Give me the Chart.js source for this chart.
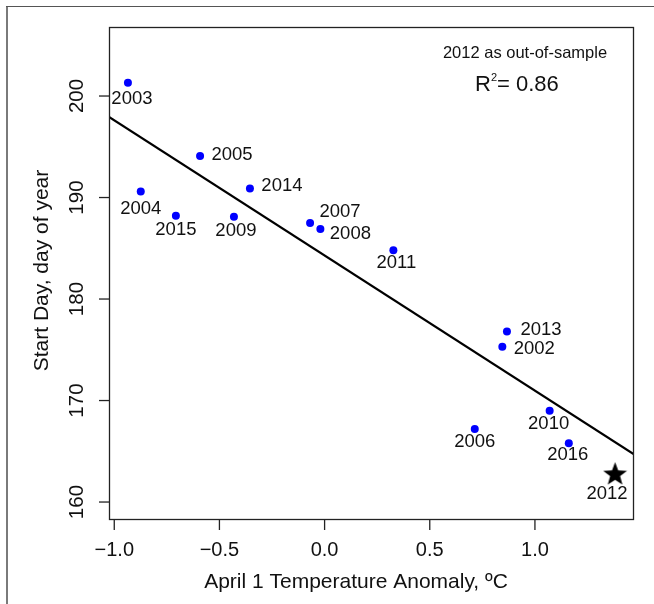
<!DOCTYPE html>
<html>
<head>
<meta charset="utf-8">
<script src="https://cdn.jsdelivr.net/npm/chart.js@4"></script>
<style>
html,body{margin:0;padding:0;background:#fff;}
#wrap{position:relative;width:654px;height:604px;}
</style>
</head>
<body>
<div id="wrap"><canvas id="c" width="654" height="604"></canvas></div>
<script>
// ---- data ----
const years      = ['2003','2005','2004','2015','2009','2014','2007','2008','2011','2013','2002','2006','2010','2016'];
const anomaly    = [-0.935,-0.592,-0.874,-0.707,-0.431,-0.355,-0.069,-0.020, 0.327, 0.867, 0.845, 0.714, 1.070, 1.161];
const startDay   = [201.3, 194.1, 190.6, 188.2, 188.1, 190.9, 187.5, 186.9, 184.8, 176.8, 175.3, 167.2, 169.0, 165.8];
const outYear    = ['2012'];
const outAnomaly = [1.381];
const outDay     = [162.8];
const fitX       = [-1.025, 1.471];
const fitY       = [197.95, 164.7];
const xTicks     = [-1.0, -0.5, 0.0, 0.5, 1.0];
const xTickLabels= ['\u22121.0','\u22120.5','0.0','0.5','1.0'];
const yTicks     = [160, 170, 180, 190, 200];
const yTickLabels= ['160','170','180','190','200'];
const noteText   = '2012 as out-of-sample';
const r2Text     = '= 0.86';
const xTitle     = 'April 1 Temperature Anomaly, \u00baC';
const yTitle     = 'Start Day, day of year';

// label offsets (style)
const labelOffsets = {
  '2003':[4,16],'2005':[32,-1],'2004':[0,17],'2015':[0,14.5],'2009':[2,14],
  '2014':[32,-2],'2007':[30,-11],'2008':[30,5],'2011':[3,13],'2013':[34,-2],
  '2002':[32,2],'2006':[0,13],'2010':[-1,13],'2016':[-1,12],'2012':[-8,20]
};
const FONT = '"Liberation Sans", Arial, Helvetica, sans-serif';

function starCanvas(size){
  const c=document.createElement('canvas'); c.width=size; c.height=size;
  const g=c.getContext('2d'); const cx=size/2, cy=size/2+1, R=size/2, r=R*0.42;
  g.beginPath();
  for(let i=0;i<10;i++){
    const a=-Math.PI/2+i*Math.PI/5; const rr=i%2?r:R;
    g.lineTo(cx+rr*Math.cos(a), cy+rr*Math.sin(a));
  }
  g.closePath(); g.fillStyle='#000'; g.fill();
  return c;
}

const decor = {
  id:'decor',
  beforeDraw(chart){
    const ctx=chart.ctx;
    ctx.save();
    ctx.fillStyle='#fff'; ctx.fillRect(0,0,chart.width,chart.height);
    ctx.strokeStyle='#7a7a7a'; ctx.lineWidth=2;
    ctx.beginPath(); ctx.moveTo(7,604); ctx.lineTo(7,6); ctx.stroke();
    ctx.strokeStyle='#555'; ctx.lineWidth=1.2;
    ctx.beginPath(); ctx.moveTo(6,6.5); ctx.lineTo(654,6.5); ctx.stroke();
    ctx.restore();
  },
  afterDraw(chart){
    const ctx=chart.ctx, a=chart.chartArea, xs=chart.scales.x, ys=chart.scales.y;
    ctx.save();
    // box
    ctx.strokeStyle='#222'; ctx.lineWidth=1.3;
    ctx.strokeRect(a.left+0.5, a.top+0.5, a.right-a.left-1, a.bottom-a.top-1);
    // x ticks
    ctx.fillStyle='#111'; ctx.font='20px '+FONT; ctx.textAlign='center'; ctx.textBaseline='middle';
    xTicks.forEach((v,i)=>{
      const px=xs.getPixelForValue(v);
      ctx.beginPath(); ctx.moveTo(px,a.bottom); ctx.lineTo(px,a.bottom+10); ctx.stroke();
      ctx.fillText(xTickLabels[i], px, a.bottom+30);
    });
    // y ticks (rotated labels)
    ctx.font='20.5px '+FONT;
    yTicks.forEach((v,i)=>{
      const py=ys.getPixelForValue(v);
      ctx.beginPath(); ctx.moveTo(a.left,py); ctx.lineTo(a.left-10,py); ctx.stroke();
      ctx.save(); ctx.translate(a.left-32, py); ctx.rotate(-Math.PI/2);
      ctx.fillText(yTickLabels[i],0,0); ctx.restore();
    });
    // axis titles
    ctx.font='21px '+FONT;
    ctx.fillText(xTitle, 356, a.bottom+62);
    ctx.save(); ctx.translate(42,(a.top+a.bottom)/2 - 3); ctx.rotate(-Math.PI/2);
    ctx.fillText(yTitle,0,0); ctx.restore();
    // point labels
    ctx.font='18.5px '+FONT;
    const drawLabels=(labs,xv,yv)=>{
      labs.forEach((t,i)=>{
        const o=labelOffsets[t]||[0,14];
        ctx.fillText(t, xs.getPixelForValue(xv[i])+o[0], ys.getPixelForValue(yv[i])+o[1]);
      });
    };
    drawLabels(years,anomaly,startDay);
    drawLabels(outYear,outAnomaly,outDay);
    // annotation
    ctx.font='16.5px '+FONT;
    ctx.fillText(noteText, 525, 53);
    ctx.font='22px '+FONT;
    ctx.textAlign='left';
    const rx=475, ry=85;
    ctx.fillText('R', rx, ry);
    const wR=ctx.measureText('R').width;
    ctx.font='11px '+FONT; ctx.fillText('2', rx+wR, ry-7);
    const w2=ctx.measureText('2').width;
    ctx.font='22px '+FONT; ctx.fillText(r2Text, rx+wR+w2, ry);
    ctx.restore();
  }
};

new Chart(document.getElementById('c'), {
  data:{
    datasets:[
      {type:'line', data:fitX.map((x,i)=>({x:x,y:fitY[i]})), borderColor:'#000', borderWidth:2.2,
       pointRadius:0, fill:false, order:2},
      {type:'scatter', data:anomaly.map((x,i)=>({x:x,y:startDay[i]})), backgroundColor:'#0000ff',
       borderColor:'#0000ff', pointRadius:4, borderWidth:0, order:1},
      {type:'scatter', data:outAnomaly.map((x,i)=>({x:x,y:outDay[i]})), pointStyle:starCanvas(25),
       pointRadius:12, order:1}
    ]
  },
  options:{
    responsive:false, animation:false, devicePixelRatio:1,
    layout:{padding:{left:109,top:27,right:20,bottom:84}},
    plugins:{legend:{display:false}, tooltip:{enabled:false}},
    scales:{
      x:{type:'linear', min:-1.025, max:1.471, display:false},
      y:{type:'linear', min:158.23, max:206.8, display:false}
    }
  },
  plugins:[decor]
});
</script>
</body>
</html>
